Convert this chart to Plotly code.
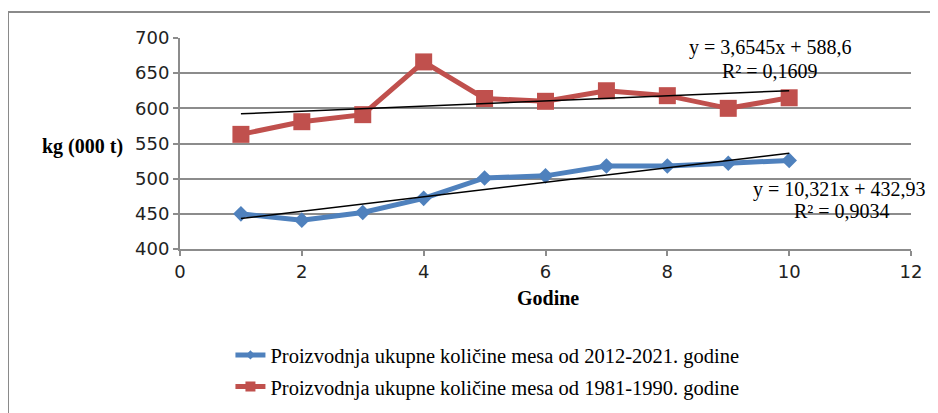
import plotly.graph_objects as go

years_idx = [1, 2, 3, 4, 5, 6, 7, 8, 9, 10]
series_2012_2021 = [450, 441, 452, 472, 501, 504, 518, 518, 522, 526]
series_1981_1990 = [563, 581, 591, 666, 614, 610, 625, 618, 600, 615]
trend_slopes = [10.321, 3.6545]
trend_intercepts = [432.93, 588.6]
trend_labels = ["y = 10,321x + 432,93", "y = 3,6545x + 588,6"]
r2_labels = ["R² = 0,9034", "R² = 0,1609"]
names = ["Proizvodnja ukupne količine mesa od 2012-2021. godine",
         "Proizvodnja ukupne količine mesa od 1981-1990. godine"]
x_ticks = [0, 2, 4, 6, 8, 10, 12]
y_ticks = [400, 450, 500, 550, 600, 650, 700]

SERIF = '"Liberation Serif", "Times New Roman", Times, serif'
SANS = '"DejaVu Sans", Verdana, sans-serif'
BLUE = "#4F81BD"
RED = "#C0504D"
GRID = "#8C8C8C"

fig = go.Figure()
fig.add_trace(go.Scatter(x=years_idx, y=series_2012_2021, name=names[0], mode="lines+markers",
                         line=dict(color=BLUE, width=5), marker=dict(symbol="diamond", size=12, color=BLUE),
                         showlegend=False))
fig.add_trace(go.Scatter(x=years_idx, y=series_1981_1990, name=names[1], mode="lines+markers",
                         line=dict(color=RED, width=5), marker=dict(symbol="square", size=17, color=RED),
                         showlegend=False))

xs_tr = [years_idx[0], years_idx[-1]]
for m, b in zip(trend_slopes, trend_intercepts):
    fig.add_trace(go.Scatter(x=xs_tr, y=[m * x + b for x in xs_tr], mode="lines",
                             line=dict(color="black", width=1.5), showlegend=False, hoverinfo="skip"))

# legend entries with smaller symbols
fig.add_trace(go.Scatter(x=[None], y=[None], name=names[0], mode="lines+markers",
                         line=dict(color=BLUE, width=5), marker=dict(symbol="diamond", size=7, color=BLUE),
                         legendgroup="a"))
fig.add_trace(go.Scatter(x=[None], y=[None], name=names[1], mode="lines+markers",
                         line=dict(color=RED, width=5), marker=dict(symbol="square", size=10, color=RED),
                         legendgroup="b"))

ann = [
    dict(x=10.83, y=485, text=trend_labels[0]),
    dict(x=10.86, y=454, text=r2_labels[0]),
    dict(x=9.69, y=686, text=trend_labels[1]),
    dict(x=9.69, y=653, text=r2_labels[1]),
]
annotations = [dict(xref="x", yref="y", xanchor="center", yanchor="middle", showarrow=False,
                    font=dict(family=SERIF, size=20, color="black"), **a) for a in ann]
annotations.append(dict(xref="paper", yref="paper", x=-0.134, y=0.488, xanchor="center", yanchor="middle",
                        text="<b>kg (000 t)</b>", showarrow=False,
                        font=dict(family=SERIF, size=20, color="black")))
annotations.append(dict(xref="paper", yref="paper", x=0.503, y=-0.232, xanchor="center", yanchor="middle",
                        text="<b>Godine</b>", showarrow=False,
                        font=dict(family=SERIF, size=20, color="black")))

fig.update_layout(
    width=930, height=421,
    margin=dict(l=172, r=27, t=30, b=180),
    paper_bgcolor="white", plot_bgcolor="white",
    font=dict(family=SERIF, size=18, color="black"),
    annotations=annotations,
    showlegend=True,
    legend=dict(x=0.069, y=-0.408, xanchor="left", yanchor="top",
                font=dict(family=SERIF, size=20.5, color="black"),
                tracegroupgap=2, bgcolor="rgba(0,0,0,0)"),
    shapes=[dict(type="rect", xref="paper", yref="paper", x0=-0.2353, x1=1.2, y0=-1.2, y1=1.123,
                 line=dict(color="#8A8A8A", width=2), layer="below")],
)
fig.update_xaxes(range=[0, 12], tickvals=x_ticks, showgrid=False, zeroline=False,
                 showline=True, linecolor=GRID, linewidth=2, ticks="outside", ticklen=5, tickcolor=GRID, tickwidth=2,
                 tickfont=dict(family=SANS, size=18, color="#222222"))
fig.update_yaxes(range=[400, 700], tickvals=y_ticks, showgrid=True, gridcolor=GRID, gridwidth=2, zeroline=False,
                 showline=True, linecolor=GRID, linewidth=2, ticks="outside", ticklen=5, tickcolor=GRID, tickwidth=2,
                 tickfont=dict(family=SANS, size=18, color="#222222"))

fig.write_html("out.html")
